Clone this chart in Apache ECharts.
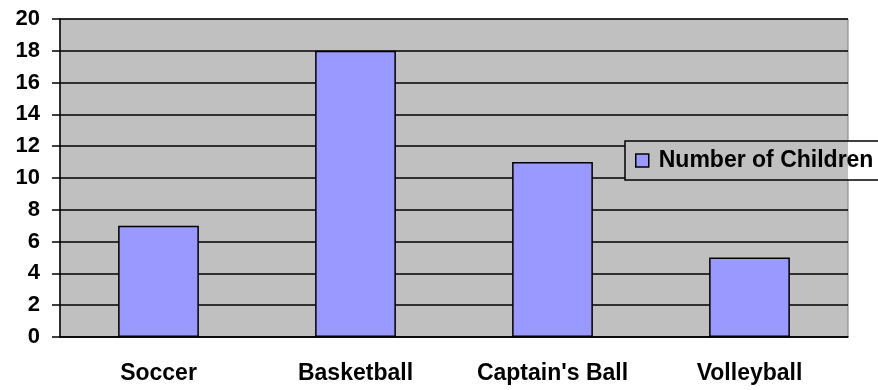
<!DOCTYPE html>
<html>
<head>
<meta charset="utf-8">
<script src="https://cdn.jsdelivr.net/npm/echarts@6/dist/echarts.min.js"></script>
<style>
  html, body { margin: 0; padding: 0; background: #fff; }
  #chart { width: 878px; height: 390px; }
</style>
</head>
<body>
<div id="chart"></div>
<script>
let sports = ['Soccer', 'Basketball', "Captain's Ball", 'Volleyball'];
let childCounts = [7, 18, 11, 5];
let seriesName = 'Number of Children';

let myChart = echarts.init(document.getElementById('chart'));
let font = 'Liberation Sans, Arial, sans-serif';
// legend box: gray where it sits over the plot, white beyond the plot's right edge
// (coordinates are local to the legend content group)
let legendFill = {
  type: 'linear', x: 205, y: 0, x2: 221, y2: 0, global: true,
  colorStops: [
    { offset: 0, color: '#c0c0c0' },
    { offset: 0.5, color: '#c0c0c0' },
    { offset: 0.5, color: '#ffffff' },
    { offset: 1, color: '#ffffff' }
  ]
};
let option = {
  animation: false,
  grid: {
    left: 60,
    right: 30,
    top: 19,
    bottom: 53,
    show: true,
    backgroundColor: '#c0c0c0',
    borderColor: '#808080',
    borderWidth: 1
  },
  legend: {
    data: [seriesName],
    left: 625,
    top: 141,
    padding: [8, 12, 8, 10],
    itemWidth: 13,
    itemHeight: 13,
    itemGap: 8,
    backgroundColor: legendFill,
    borderColor: '#000',
    borderWidth: 1.5,
    icon: 'rect',
    itemStyle: { borderColor: '#000', borderWidth: 1.5 },
    textStyle: { fontFamily: font, fontWeight: 'bold', fontSize: 23, color: '#000', padding: [0, 0, 0, 5] }
  },
  xAxis: {
    type: 'category',
    data: sports,
    axisLine: { lineStyle: { color: '#000', width: 1.5 } },
    axisTick: { length: 7, lineStyle: { color: '#000', width: 1.5 } },
    axisLabel: { margin: 25, fontFamily: font, fontWeight: 'bold', fontSize: 23, color: '#000' }
  },
  yAxis: {
    type: 'value',
    min: 0,
    max: 20,
    interval: 2,
    axisLine: { show: true, lineStyle: { color: '#000', width: 1.5 } },
    axisTick: { show: true, length: 8, lineStyle: { color: '#000', width: 1.5 } },
    splitLine: { lineStyle: { color: '#000', width: 1.5 } },
    axisLabel: { margin: 20, fontFamily: font, fontWeight: 'bold', fontSize: 22, color: '#000' }
  },
  series: [
    {
      name: seriesName,
      type: 'bar',
      data: childCounts,
      barCategoryGap: '59%',
      itemStyle: { color: '#9999ff', borderColor: '#000', borderWidth: 1.5 }
    }
  ]
};
myChart.setOption(option);
</script>
</body>
</html>
